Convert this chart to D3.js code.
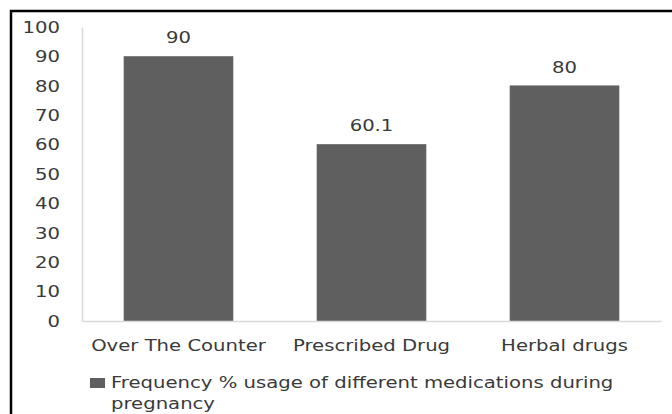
<!DOCTYPE html>
<html>
<head>
<meta charset="utf-8">
<script src="https://cdn.jsdelivr.net/npm/d3@7"></script>
<style>
  html, body { margin: 0; padding: 0; background: #fff; }
  svg { display: block; }
  text { font-family: "DejaVu Sans", Verdana, sans-serif; fill: #3a3a3a; }
</style>
</head>
<body>
<svg id="chart" width="672" height="414"></svg>
<script>
// Medication usage during pregnancy (%)
const categories = ["Over The Counter", "Prescribed Drug", "Herbal drugs"];
const values = [90, 60.1, 80];
const yTicks = [0, 10, 20, 30, 40, 50, 60, 70, 80, 90, 100];
const legendLines = ["Frequency % usage of different medications during", "pregnancy"];

const svg = d3.select("#chart");
const W = 672, H = 414;
const stretch = 1.31;      // wide lettering
const fontSize = 15;
const barColor = "#5f5f5f";
const axisColor = "#d9d9d9";
const textColor = "#3a3a3a";
const fontFamily = '"DejaVu Sans", Verdana, sans-serif';

// outer frame (continues past the right and bottom edges)
svg.append("rect")
  .attr("x", 11).attr("y", 11)
  .attr("width", W + 20).attr("height", H + 20)
  .attr("fill", "none").attr("stroke", "#000").attr("stroke-width", 2.5);

const plot = { left: 82, right: 661, top: 27, bottom: 321 };

const x = d3.scaleBand()
  .domain(categories)
  .range([plot.left, plot.right])
  .paddingInner(0.435)
  .paddingOuter(0.2175);

const y = d3.scaleLinear().domain([0, 100]).range([plot.bottom, plot.top]);

// y axis
const yAxis = svg.append("g")
  .attr("transform", `translate(${plot.left},0)`)
  .call(d3.axisLeft(y).tickValues(yTicks).tickSize(0).tickFormat(d3.format("d")));
yAxis.select(".domain").attr("stroke", axisColor).attr("stroke-width", 1.5);
yAxis.selectAll(".tick text")
  .attr("x", 0)
  .attr("dy", "0.35em")
  .attr("transform", `translate(-22,0) scale(${stretch},1)`)
  .style("font-size", fontSize + "px")
  .style("font-family", fontFamily)
  .attr("fill", textColor);

// bars
svg.append("g").selectAll("rect")
  .data(values)
  .join("rect")
  .attr("x", (d, i) => x(categories[i]))
  .attr("y", d => y(d))
  .attr("width", x.bandwidth())
  .attr("height", d => y(0) - y(d))
  .attr("fill", barColor)
  .attr("stroke", "#6e6e6e")
  .attr("stroke-width", 0.6);

// x axis baseline and category labels
const xAxis = svg.append("g")
  .attr("transform", `translate(0,${plot.bottom})`)
  .call(d3.axisBottom(x).tickSize(0).tickSizeOuter(0));
xAxis.select(".domain").attr("stroke", axisColor).attr("stroke-width", 1.5);
xAxis.selectAll(".tick text")
  .attr("y", 0).attr("dy", 0)
  .attr("transform", `translate(0,30) scale(${stretch},1)`)
  .style("font-size", fontSize + "px")
  .style("font-family", fontFamily)
  .attr("fill", textColor);

// value labels
svg.append("g").selectAll("text")
  .data(values)
  .join("text")
  .attr("text-anchor", "middle")
  .attr("transform", (d, i) =>
    `translate(${x(categories[i]) + x.bandwidth() / 2},${y(d) - 13}) scale(${stretch},1)`)
  .style("font-size", fontSize + "px")
  .text(d => d);

// legend
const legend = svg.append("g");
legend.append("rect")
  .attr("x", 90).attr("y", 378)
  .attr("width", 15).attr("height", 10)
  .attr("fill", barColor);
legend.selectAll("text")
  .data(legendLines)
  .join("text")
  .attr("transform", (d, i) => `translate(111,${388 + i * 21}) scale(${stretch},1)`)
  .style("font-size", fontSize + "px")
  .text(d => d);
</script>
</body>
</html>
